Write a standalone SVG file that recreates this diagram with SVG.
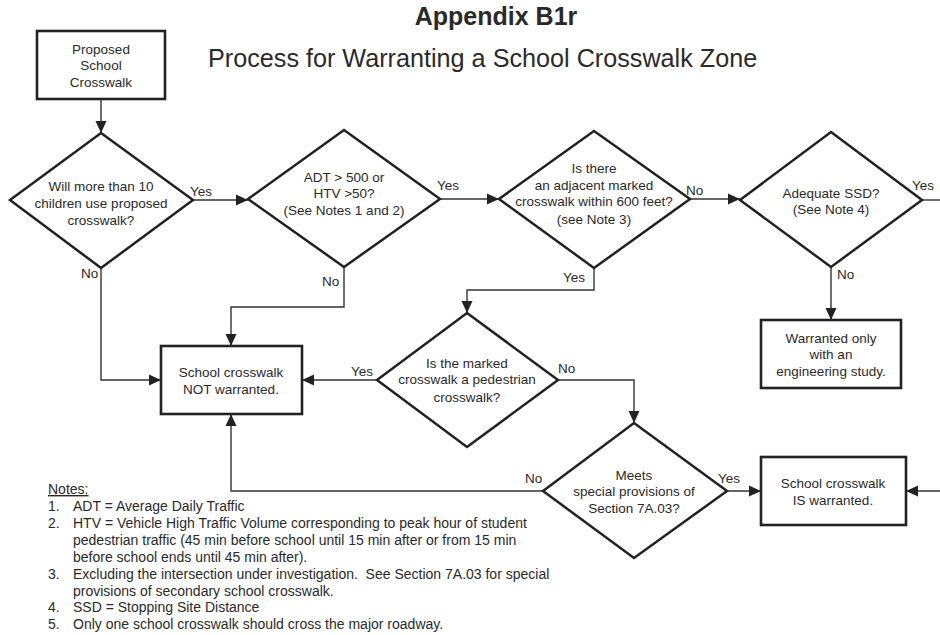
<svg xmlns="http://www.w3.org/2000/svg" width="940" height="635" viewBox="0 0 940 635">
<defs>
<marker id="arr" markerUnits="userSpaceOnUse" markerWidth="13" markerHeight="12" refX="12" refY="6" orient="auto">
<path d="M0,0.5 L12,6 L0,11.5 Z" fill="#222"/>
</marker>
<style>
text{font-family:"Liberation Sans",Arial,sans-serif;fill:#2a2a2a}
.t{font-size:13.5px;text-anchor:middle}
.l{font-size:13.5px}
.n{font-size:14px}
.box{fill:#fff;stroke:#222;stroke-width:2.6}
.dia{fill:#fff;stroke:#222;stroke-width:2.5}
.c{fill:none;stroke:#333;stroke-width:1.4}
.ca{fill:none;stroke:#333;stroke-width:1.4;marker-end:url(#arr)}
</style>
</defs>
<rect width="940" height="635" fill="#fff"/>
<text x="496" y="25" style="font-size:25px;font-weight:bold;text-anchor:middle">Appendix B1r</text>
<text x="208" y="67" style="font-size:25.2px">Process for Warranting a School Crosswalk Zone</text>

<g id="connectors">
<path class="ca" d="M101,99 V133"/>
<path class="ca" d="M193,200 H248"/>
<path class="ca" d="M440,199 H499"/>
<path class="ca" d="M690,199 H740"/>
<path class="c" d="M922,200 H940"/>
<path class="ca" d="M831,267 V320"/>
<path class="ca" d="M101,268 V380 H161"/>
<path class="ca" d="M344,267 V307 H231 V346"/>
<path class="ca" d="M594,268 V290 H467 V313"/>
<path class="ca" d="M377,380 H302"/>
<path class="ca" d="M558,380 H634 V423"/>
<path class="ca" d="M543,491 H231 V414"/>
<path class="ca" d="M727,491 H761"/>
<path class="ca" d="M940,491 H906"/>
</g>

<g id="labels">
<text class="l" x="190" y="196">Yes</text>
<text class="l" x="81" y="278">No</text>
<text class="l" x="437" y="190">Yes</text>
<text class="l" x="322" y="286">No</text>
<text class="l" x="686" y="195">No</text>
<text class="l" x="563" y="282">Yes</text>
<text class="l" x="912" y="190">Yes</text>
<text class="l" x="837" y="279">No</text>
<text class="l" x="351" y="376">Yes</text>
<text class="l" x="558" y="373">No</text>
<text class="l" x="525" y="483">No</text>
<text class="l" x="718" y="483">Yes</text>
</g>

<g id="start">
<rect class="box" x="37" y="31" width="128" height="68"/>
<text class="t" x="101" y="54">Proposed</text>
<text class="t" x="101" y="70">School</text>
<text class="t" x="101" y="87">Crosswalk</text>
</g>

<g id="d1">
<path class="dia" d="M101,133 L193,200 L101,268 L10,200 Z"/>
<text class="t" x="101" y="191">Will more than 10</text>
<text class="t" x="101" y="208">children use proposed</text>
<text class="t" x="101" y="225">crosswalk?</text>
</g>

<g id="d2">
<path class="dia" d="M344,130 L440,199 L344,267 L248,199 Z"/>
<text class="t" x="344" y="182">ADT &gt; 500 or</text>
<text class="t" x="344" y="198">HTV &gt;50?</text>
<text class="t" x="344" y="215">(See Notes 1 and 2)</text>
</g>

<g id="d3">
<path class="dia" d="M594,131 L690,199 L594,268 L499,199 Z"/>
<text class="t" x="594" y="173">Is there</text>
<text class="t" x="594" y="190">an adjacent marked</text>
<text class="t" x="594" y="206">crosswalk within 600 feet?</text>
<text class="t" x="594" y="224">(see Note 3)</text>
</g>

<g id="d4">
<path class="dia" d="M831,132 L922,200 L831,267 L740,200 Z"/>
<text class="t" x="831" y="198">Adequate SSD?</text>
<text class="t" x="831" y="214">(See Note 4)</text>
</g>

<g id="engineering">
<rect class="box" x="761" y="320" width="140" height="68"/>
<text class="t" x="831" y="343">Warranted only</text>
<text class="t" x="831" y="359">with an</text>
<text class="t" x="831" y="376">engineering study.</text>
</g>

<g id="not-warranted">
<rect class="box" x="161" y="346" width="141" height="68"/>
<text class="t" x="231" y="377">School crosswalk</text>
<text class="t" x="231" y="394">NOT warranted.</text>
</g>

<g id="d5">
<path class="dia" d="M467,313 L558,380 L467,447 L377,380 Z"/>
<text class="t" x="467" y="368">Is the marked</text>
<text class="t" x="467" y="384">crosswalk a pedestrian</text>
<text class="t" x="467" y="402">crosswalk?</text>
</g>

<g id="d6">
<path class="dia" d="M634,423 L727,491 L634,558 L543,491 Z"/>
<text class="t" x="634" y="480">Meets</text>
<text class="t" x="634" y="496">special provisions of</text>
<text class="t" x="634" y="513">Section 7A.03?</text>
</g>

<g id="is-warranted">
<rect class="box" x="761" y="457" width="145" height="68"/>
<text class="t" x="833" y="488">School crosswalk</text>
<text class="t" x="833" y="505">IS warranted.</text>
</g>

<g id="notes">
<text class="n" x="48" y="494" text-decoration="underline">Notes:</text>
<text class="n" x="48" y="511">1.</text>
<text class="n" x="73" y="511">ADT = Average Daily Traffic</text>
<text class="n" x="48" y="528">2.</text>
<text class="n" x="73" y="528">HTV = Vehicle High Traffic Volume corresponding to peak hour of student</text>
<text class="n" x="73" y="545">pedestrian traffic (45 min before school until 15 min after or from 15 min</text>
<text class="n" x="73" y="562">before school ends until 45 min after).</text>
<text class="n" x="48" y="579">3.</text>
<text class="n" x="73" y="579" xml:space="preserve">Excluding the intersection under investigation.  See Section 7A.03 for special</text>
<text class="n" x="73" y="596">provisions of secondary school crosswalk.</text>
<text class="n" x="48" y="612">4.</text>
<text class="n" x="73" y="612">SSD = Stopping Site Distance</text>
<text class="n" x="48" y="629">5.</text>
<text class="n" x="73" y="629">Only one school crosswalk should cross the major roadway.</text>
</g>
</svg>
